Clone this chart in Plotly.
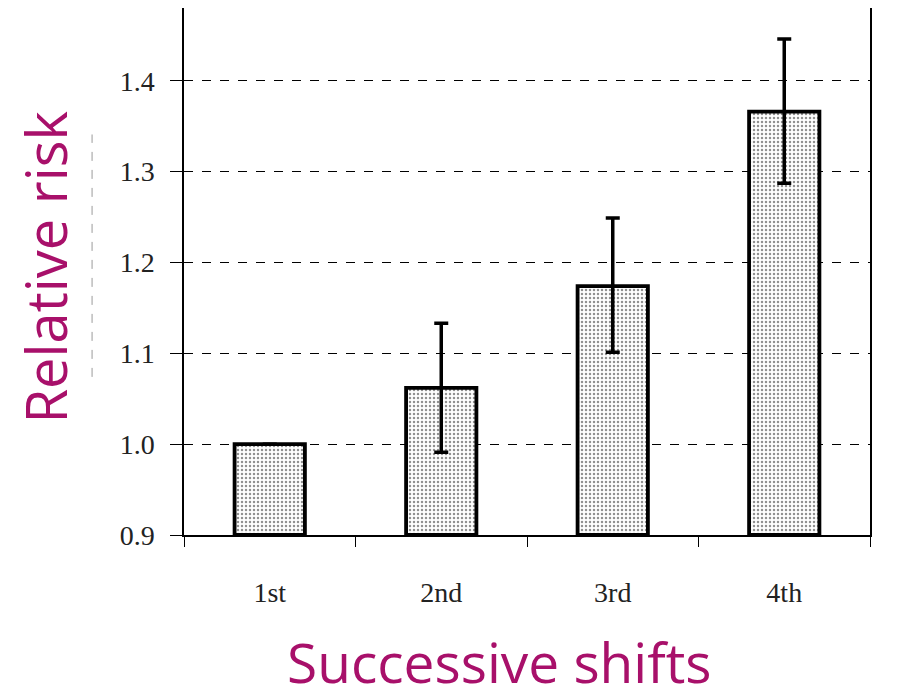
import plotly.graph_objects as go

# Relative risk of successive shifts, with confidence intervals
shifts = ["1st", "2nd", "3rd", "4th"]
relative_risk = [1.0, 1.062, 1.174, 1.366]
ci_upper = [1.0, 1.133, 1.249, 1.446]
ci_lower = [1.0, 0.991, 1.101, 1.287]
y_ticks = [0.9, 1.0, 1.1, 1.2, 1.3, 1.4]

has_ci = [u != l for u, l in zip(ci_upper, ci_lower)]
err_plus = [u - v if h else None for u, v, h in zip(ci_upper, relative_risk, has_ci)]
err_minus = [v - l if h else None for l, v, h in zip(ci_lower, relative_risk, has_ci)]

title_color = "#A8106A"
serif = "Liberation Serif, Times New Roman, serif"

fig = go.Figure()
fig.add_trace(go.Bar(
    x=shifts,
    y=[v - 0.9 for v in relative_risk],
    base=0.9,
    width=0.41,
    marker=dict(
        color="white",
        line=dict(color="black", width=3.8),
        pattern=dict(shape=".", fgcolor="#222222", bgcolor="white",
                     size=4, solidity=0.3),
    ),
    error_y=dict(type="data", symmetric=False,
                 array=err_plus, arrayminus=err_minus,
                 color="black", thickness=3.5, width=7),
    hoverinfo="skip",
))

fig.update_layout(
    width=922, height=690,
    margin=dict(l=184, r=52, t=8, b=155),
    paper_bgcolor="white", plot_bgcolor="white",
    showlegend=False,
    xaxis=dict(
        type="category",
        tickson="boundaries",
        ticks="outside", ticklen=10, tickcolor="black", tickwidth=1,
        showline=True, linecolor="black", linewidth=1.5,
        showgrid=False,
        tickfont=dict(family=serif, size=28, color="#222"),
        ticklabelstandoff=32,
    ),
    yaxis=dict(
        range=[0.9, 1.48],
        tickvals=y_ticks,
        ticktext=[f"{t:.1f}" for t in y_ticks],
        ticks="outside", ticklen=12, tickcolor="black", tickwidth=1,
        showline=True, linecolor="black", linewidth=1.5, mirror=True,
        showgrid=True, gridcolor="black", gridwidth=1, griddash="dash",
        zeroline=False,
        tickfont=dict(family=serif, size=28, color="#222"),
        ticklabelstandoff=10,
    ),
    annotations=[
        dict(text="Successive shifts", xref="paper", yref="paper",
             x=0.46, y=-0.24, xanchor="center", yanchor="middle",
             showarrow=False,
             font=dict(family="Open Sans, sans-serif", size=55, color=title_color)),
        dict(text="Relative risk", xref="paper", yref="paper",
             x=-0.203, y=0.507, xanchor="center", yanchor="middle",
             textangle=-90, showarrow=False,
             font=dict(family="Open Sans, sans-serif", size=56, color=title_color)),
    ],
    shapes=[
        dict(type="line", xref="paper", yref="paper",
             x0=-0.134, x1=-0.134, y0=0.30, y1=0.76,
             line=dict(color="#9a9a9a", width=1, dash="dash")),
    ],
)

fig.write_html("out.html")
